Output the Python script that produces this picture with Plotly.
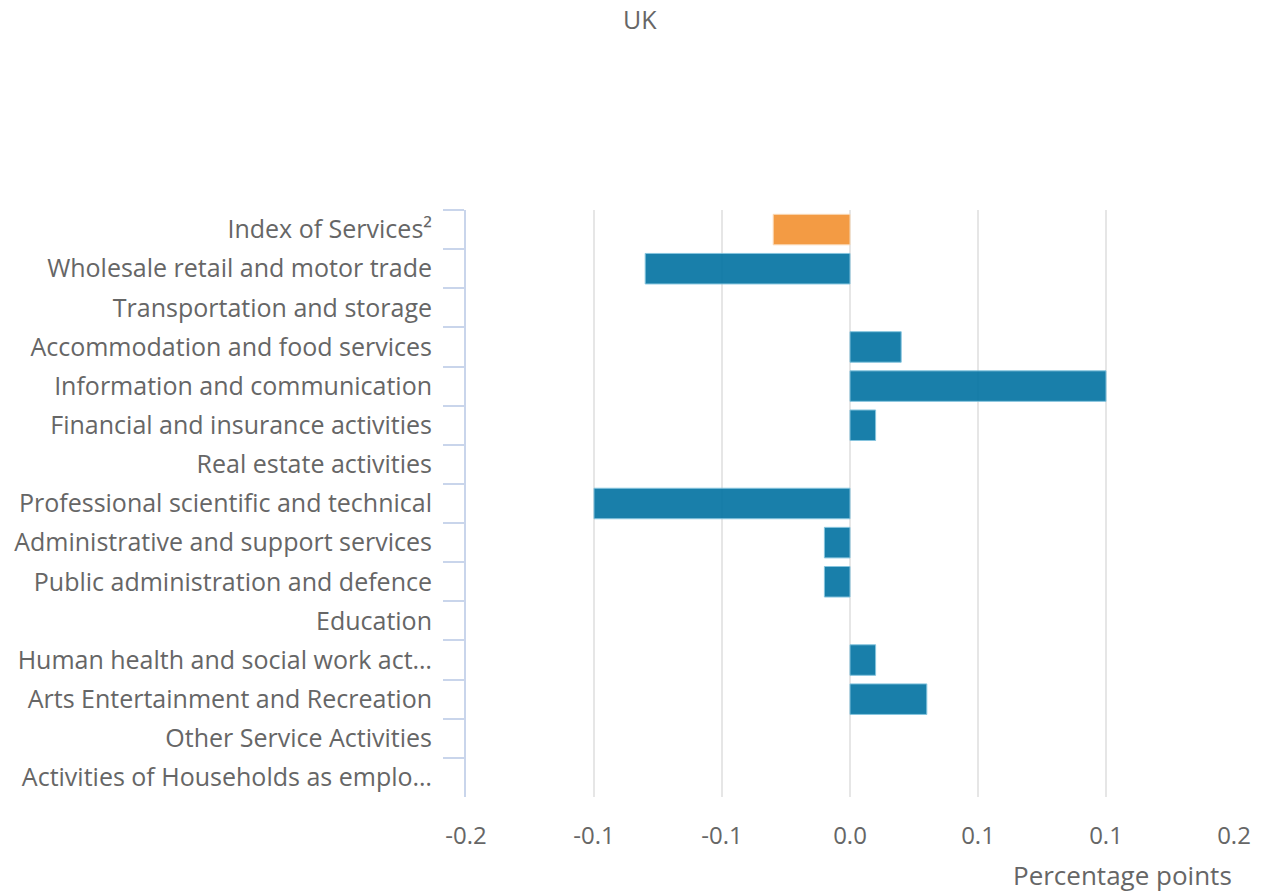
import plotly.graph_objects as go

categories = [
    "Index of Services²",
    "Wholesale retail and motor trade",
    "Transportation and storage",
    "Accommodation and food services",
    "Information and communication",
    "Financial and insurance activities",
    "Real estate activities",
    "Professional scientific and technical",
    "Administrative and support services",
    "Public administration and defence",
    "Education",
    "Human health and social work act…",
    "Arts Entertainment and Recreation",
    "Other Service Activities",
    "Activities of Households as emplo…",
]
values = [-0.03, -0.08, 0.0, 0.02, 0.10, 0.01, 0.0, -0.10, -0.01, -0.01, 0.0, 0.01, 0.03, 0.0, 0.0]
tick_vals = [-0.15, -0.10, -0.05, 0.0, 0.05, 0.10, 0.15]
tick_text = ["-0.2", "-0.1", "-0.1", "0.0", "0.1", "0.1", "0.2"]

ORANGE = "#f29335"
BLUE = "#0675a3"
colors = [ORANGE] + [BLUE] * (len(categories) - 1)
line_colors = ["#fbd9b5"] + ["#7cc0dc"] * (len(categories) - 1)
line_widths = [0 if v == 0 else 1 for v in values]

fig = go.Figure(go.Bar(
    x=values, y=categories, orientation="h",
    marker=dict(color=colors, opacity=0.92,
                line=dict(color=line_colors, width=line_widths)),
    showlegend=False,
))

fig.update_layout(
    width=1262, height=893,
    margin=dict(l=466, r=28, t=210, b=96),
    paper_bgcolor="white", plot_bgcolor="white",
    font=dict(family="Open Sans", color="#666666", size=25),
    title=dict(text="UK", x=0.507, xanchor="center", y=0.977, yanchor="middle",
               font=dict(family="Open Sans", size=25, color="#666666")),
    bargap=0.22,
    annotations=[dict(text="Percentage points", xref="paper", yref="paper",
                      x=1, y=0, xanchor="right", yanchor="top", yshift=-58,
                      showarrow=False, font=dict(size=26, color="#666666"))],
)
fig.update_xaxes(
    range=[-0.15, 0.15], tickvals=tick_vals, ticktext=tick_text,
    showgrid=True, gridcolor="#e6e6e6", gridwidth=2,
    zeroline=True, zerolinecolor="#e6e6e6", zerolinewidth=2,
    showline=False, ticks="", ticklabelstandoff=22,
    tickfont=dict(size=24, color="#666666"),
)
fig.update_yaxes(
    autorange="reversed", showline=True, linecolor="#c9d5eb", linewidth=2,
    ticks="outside", tickson="boundaries", ticklen=21, tickcolor="#c9d5eb", tickwidth=2,
    showgrid=False, ticklabelstandoff=27,
    tickfont=dict(size=25, color="#666666"),
)

fig.write_html("out.html", config={"displayModeBar": False},
               post_script="document.body.style.margin='0';")
